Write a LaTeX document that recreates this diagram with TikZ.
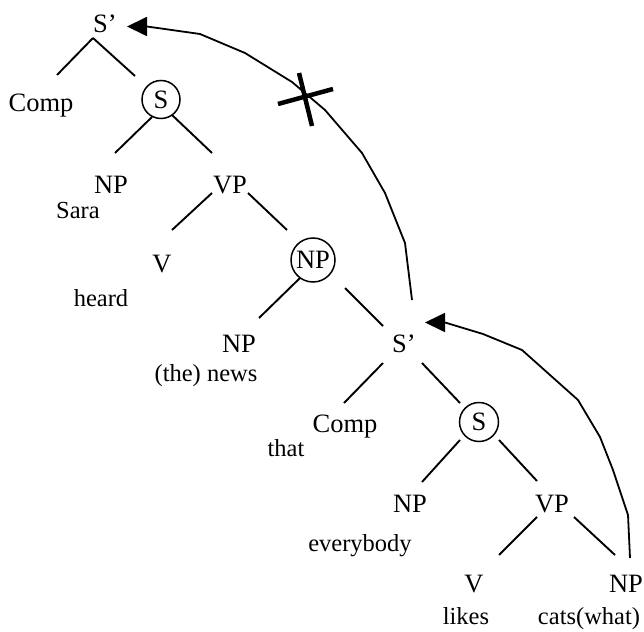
\documentclass[tikz,border=0pt]{standalone}
\usepackage{fontspec}
\setmainfont{Liberation Serif}
\usetikzlibrary{arrows.meta}
\begin{document}
\begin{tikzpicture}[x=1pt,y=-1pt,
  cat/.style={anchor=base,inner sep=0pt,font=\fontsize{26.5}{30}\selectfont},
  word/.style={anchor=base,inner sep=0pt,font=\fontsize{24.5}{28}\selectfont},
  ringcat/.style={circle,draw,line width=1.5pt,inner sep=0pt,font=\fontsize{26.5}{30}\selectfont},
  branch/.style={line width=1.9pt},
  movearc/.style={line width=1.8pt,line join=round,-{Triangle[length=20pt,width=19pt]}},
  crossmark/.style={line width=4.5pt}]
\useasboundingbox (0,0) rectangle (644,631);
% upper tree
\node[cat] (sp1) at (105,33) {S’};
\node[cat] (comp1) at (41,112) {Comp};
\node[ringcat,minimum size=38pt] (s1) at (161,99.5) {\raisebox{-2.5pt}{S}};
\node[cat] (np1) at (111,193) {NP};
\node[word] (sara) at (78,218) {Sara};
\node[cat] (vp1) at (230,193) {VP};
\node[cat] (v1) at (162,272) {V};
\node[word] (heard) at (101,306) {heard};
\node[ringcat,minimum size=44pt] (np2) at (313,260) {\raisebox{-3.5pt}{NP}};
\node[cat] (np3) at (239,352) {NP};
\node[word] (news) at (206,381) {(the) news};
% embedded clause
\node[cat] (sp2) at (404,352) {S’};
\node[cat] (comp2) at (345,432) {Comp};
\node[word] (that) at (286,456) {that};
\node[ringcat,minimum size=39pt] (s2) at (479,422) {\raisebox{-1pt}{S}};
\node[cat] (np4) at (410,512) {NP};
\node[word] (everybody) at (360,551) {everybody};
\node[cat] (vp2) at (552,512) {VP};
\node[cat] (v2) at (474,592) {V};
\node[word] (likes) at (466,624) {likes};
\node[cat] (np5) at (626,592) {NP};
\node[word] (cats) at (589,624) {cats(what)};
% branches
\draw[branch] ([shift={(-12,5)}]sp1.base) -- ([shift={(16,-37)}]comp1.base);
\draw[branch] ([shift={(-12,5)}]sp1.base) -- ([shift={(-26,-23.5)}]s1.center);
\draw[branch] ([shift={(-9,17.5)}]s1.center) -- ([shift={(4,-40)}]np1.base);
\draw[branch] ([shift={(11,15.5)}]s1.center) -- ([shift={(-18,-40)}]vp1.base);
\draw[branch] ([shift={(-18,0)}]vp1.base) -- ([shift={(10,-42)}]v1.base);
\draw[branch] ([shift={(18,0)}]vp1.base) -- ([shift={(-26,-30)}]np2.center);
\draw[branch] ([shift={(-13,18)}]np2.center) -- ([shift={(20,-34)}]np3.base);
\draw[branch] ([shift={(32,28)}]np2.center) -- ([shift={(-21,-26)}]sp2.base);
\draw[branch] ([shift={(-21,11)}]sp2.base) -- ([shift={(-1,-29)}]comp2.base);
\draw[branch] ([shift={(18,11)}]sp2.base) -- ([shift={(-19,-19)}]s2.center);
\draw[branch] ([shift={(-19,18)}]s2.center) -- ([shift={(12,-30)}]np4.base);
\draw[branch] ([shift={(20,18)}]s2.center) -- ([shift={(-15,-31)}]vp2.base);
\draw[branch] ([shift={(-15,5)}]vp2.base) -- ([shift={(25,-37)}]v2.base);
\draw[branch] ([shift={(22,5)}]vp2.base) -- ([shift={(-11,-37)}]np5.base);
% movement arcs
\draw[movearc] ([shift={(8,-52)}]sp2.base) -- (405,243) -- (385,193) -- (362,153) -- (325,110)
  -- (292,82) -- (245,53) -- (200,34) -- (147,26.5) -- ([shift={(22,-6.5)}]sp1.base);
\draw[movearc] ([shift={(4,-34)}]np5.base) -- (628,515) -- (613,470) -- (600,437) -- (578,400)
  -- (522,350) -- (483,334) -- (445,322.5) -- ([shift={(21,-29.5)}]sp2.base);
% blocked movement
\draw[crossmark] (278,104) -- (333,89);
\draw[crossmark] (299,73) -- (312,126);
\end{tikzpicture}
\end{document}
